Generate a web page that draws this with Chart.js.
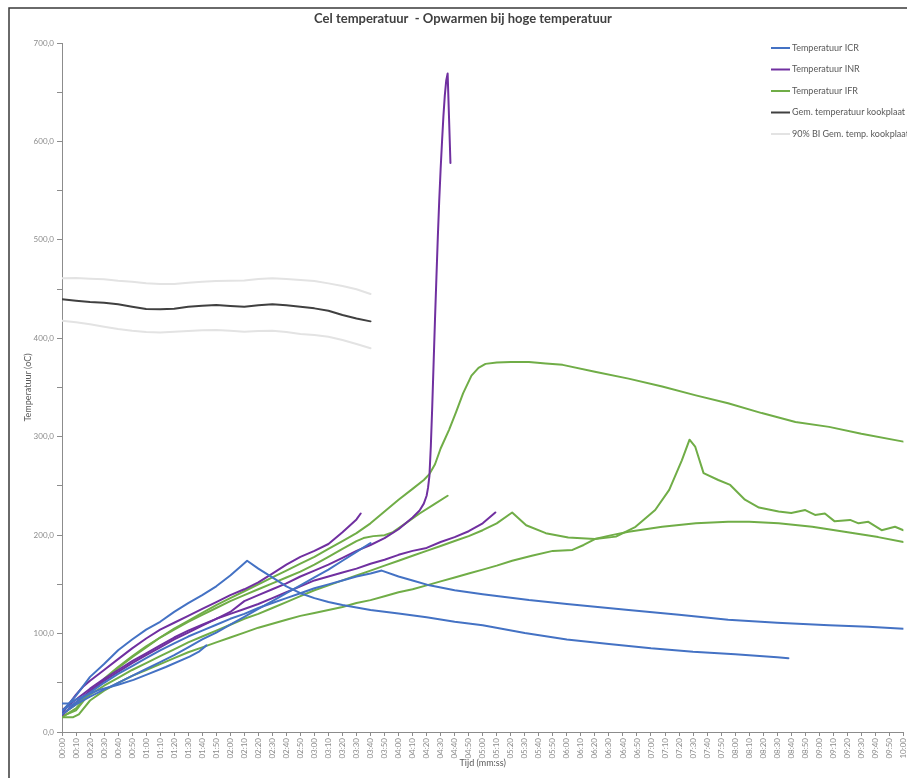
<!DOCTYPE html>
<html>
<head>
<meta charset="utf-8">
<title>Cel temperatuur - Opwarmen bij hoge temperatuur</title>
<script src="https://cdn.jsdelivr.net/npm/chart.js@4.4.1/dist/chart.umd.min.js"></script>
<style>
  html, body { margin: 0; padding: 0; overflow: hidden; background: #ffffff; }
  canvas { display: block; }
</style>
</head>
<body>
<canvas id="chart" width="915" height="778"></canvas>
<script>
// Measured cell temperatures: [time in seconds, temperature in °C]
const icr1 = [[0,21],[10,37],[20,56],[30,69],[40,83],[50,94],[60,104],[70,112],[80,122],[90,131],[100,139],[110,148],[120,159],[128,169],[132,174],[140,166],[150,157],[160,148],[170,141],[180,136],[190,132],[200,129],[210,126.5],[220,124],[240,120.5],[260,116.5],[280,112],[300,108.5],[330,100.5],[360,94],[390,89.5],[420,85],[450,81.5],[480,79],[510,76],[518,75]];
const icr2 = [[0,22],[10,30],[20,40],[30,50],[40,59],[50,67],[60,75],[70,83],[80,90],[90,97],[100,103],[110,109],[120,115],[130,120],[140,126],[150,131],[160,136],[170,141],[180,146],[190,150],[200,154],[210,158],[220,161],[228,164],[240,158],[250,154],[262,149],[280,144],[300,140],[333,134],[360,130],[404,124],[440,119],[475,114],[510,111],[547,108.5],[575,107],[600,105]];
const icr3 = [[0,29],[5,29],[10,33],[20,39],[27,43],[40,48],[51,53],[60,58],[74,66],[91,76.5],[98,82],[103,88]];
const icr4 = [[0,18],[10,28],[20,36],[30,43],[40,50],[50,57],[60,64],[70,71],[80,78],[90,86],[100,94],[110,101],[120,109],[130,117],[140,125],[150,133],[160,141],[170,149],[180,157],[190,165],[200,174],[210,183],[220,192]];

const inr1 = [[0,19],[10,38],[15,46],[20,52],[30,63],[40,74],[50,85],[60,95],[70,104],[80,111],[90,118],[100,125],[110,132],[120,139],[130,145],[140,152],[150,161],[160,170],[170,178],[180,184],[190,191],[200,203],[210,216],[213,222]];
const inr2 = [[0,17],[10,30],[20,42],[30,52],[40,61],[50,70],[60,78],[70,86],[80,94],[90,101],[100,108],[110,115],[120,122],[130,133],[140,139],[150,145],[160,151],[170,158],[180,164],[190,170],[200,177],[210,184],[220,190],[230,197],[240,206],[250,218],[255,225],[258,232],[260,240],[261,248],[262,260],[263,290],[264,330],[265,375],[266,420],[267,462],[268,503],[269,540],[270,572],[271,600],[272,626],[273,647],[274,662],[275,669],[277,578]];
const inr3 = [[0,22],[10,33],[20,44],[30,54],[40,63],[50,72],[60,80],[70,88],[80,96],[90,103],[100,109],[110,115],[120,120],[130,125],[140,130],[150,136],[160,142],[170,148],[180,154],[190,158],[200,162],[210,166],[220,171],[230,175],[240,180],[250,184],[260,187],[270,193],[280,198],[290,204],[300,212],[309,223]];

const ifr1 = [[0,15],[10,24],[20,40],[30,54],[40,66],[50,77],[60,87],[70,96],[80,104],[90,112],[100,119],[110,126],[120,133],[130,139],[140,145],[150,151],[160,157],[170,163],[180,170],[190,178],[200,186],[210,194],[215,197],[222,199],[230,200],[236,203],[245,212],[255,222],[265,231],[275,240]];
const ifr2 = [[0,16],[10,22],[20,40],[30,53],[40,65],[50,76],[60,86],[70,96],[80,105],[90,113],[100,121],[110,129],[120,136],[130,143],[140,150],[150,157],[160,164],[170,171],[180,178],[190,186],[200,194],[210,202],[220,212],[230,224],[240,236],[250,247],[258,256],[262,262],[266,272],[270,288],[276,307],[281,325],[286,344],[292,362],[297,370],[302,374],[310,375.5],[320,376],[333,376],[345,374.5],[357,373],[380,366],[404,359],[428,351],[452,342],[475,334],[499,324],[523,315],[547,310],[570,303],[600,295]];
const ifr3 = [[0,18],[10,28],[20,38],[30,47],[40,55],[50,63],[60,70],[70,77],[80,84],[90,91],[100,97],[110,103],[120,109],[130,115],[140,120],[150,126],[160,132],[170,138],[180,144],[190,149],[200,154],[210,159],[220,164],[230,169],[240,174],[250,179],[260,184],[270,189],[280,194],[290,199],[300,205],[310,212],[321,223],[331,210],[345,202],[361,197.5],[380,196],[395,198.5],[409,208.5],[423,225.5],[433,246],[442,276],[447.5,297],[451.5,290],[457.5,263],[468,256],[476.5,251],[487,236],[497,228],[511,224],[520,222.5],[530,225.5],[537,220.5],[544,222],[551,214],[562,215.5],[568,212],[575,213.5],[584.5,205],[594,208.5],[600,205]];
const ifr4 = [[0,15],[8,15],[12,18],[20,32],[30,42],[40,50],[50,57],[60,63],[70,69],[80,75],[90,81],[100,86],[110,91],[120,96],[130,101],[140,106],[150,110],[160,114],[170,118],[180,121],[190,124],[200,127],[210,131],[220,134],[230,138],[240,142],[250,145],[260,149],[270,153],[280,157],[290,161],[300,165],[310,169],[321,174],[335,179],[350,184],[364,185],[372,190],[380,196],[392,200],[404,203.5],[428,208.5],[452,212],[475,213.7],[490,213.7],[511,212],[535,208.5],[558,203.5],[582,198],[600,193]];

// Hot plate: mean temperature and its 90% confidence band
const plateMean = [[0,439.6],[10,438.2],[20,436.9],[30,436.2],[40,434.5],[50,432.1],[60,429.8],[70,429.4],[80,430.1],[90,432.1],[100,433.1],[110,433.8],[120,432.8],[130,432.1],[140,433.5],[150,434.5],[160,433.5],[170,432.1],[180,430.4],[190,428],[200,423.6],[210,420.2],[220,417.2]];
const plateUpper = [[0,461],[10,461.2],[20,460.5],[30,459.9],[40,458.5],[50,457.5],[60,455.8],[70,455.1],[80,455.1],[90,456.5],[100,457.5],[110,458.2],[120,458.5],[130,458.8],[140,460.2],[150,461],[160,460.2],[170,459.2],[180,458.2],[190,455.8],[200,453.1],[210,449.8],[220,445]];
const plateLower = [[0,417.9],[10,416.2],[20,414.2],[30,411.8],[40,409.4],[50,407.7],[60,406.4],[70,406],[80,406.7],[90,407.4],[100,408.1],[110,408.4],[120,407.7],[130,406.7],[140,407.4],[150,407.7],[160,406.4],[170,404.4],[180,403.3],[190,401.6],[200,398.3],[210,394.2],[220,389.8]];

const seriesNames = ['Temperatuur ICR', 'Temperatuur INR', 'Temperatuur IFR', 'Gem. temperatuur kookplaat', '90% BI Gem. temp. kookplaat'];
const seriesColors = ['#4472C4', '#7030A0', '#70AD47', '#404040', '#E3E3E3'];

const chartTitle = 'Cel temperatuur  - Opwarmen bij hoge temperatuur';
const yTitle = 'Temperatuur (oC)';
const xTitle = 'Tijd (mm:ss)';

const FONT = 'Lato, "Open Sans", sans-serif';

function line(points, group) {
  return {
    label: seriesNames[group],
    data: points.map(([x, y]) => ({ x, y })),
    borderColor: seriesColors[group],
    borderWidth: 2,
    pointRadius: 0,
    pointHoverRadius: 0,
    tension: 0,
    fill: false,
    borderJoinStyle: 'round',
    borderCapStyle: 'round'
  };
}

const datasets = [
  line(icr1, 0), line(icr2, 0), line(icr3, 0), line(icr4, 0),
  line(inr1, 1), line(inr2, 1), line(inr3, 1),
  line(ifr1, 2), line(ifr2, 2), line(ifr3, 2), line(ifr4, 2),
  line(plateUpper, 4), line(plateLower, 4), line(plateMean, 3)
];

function mmss(sec) {
  const m = Math.floor(sec / 60);
  const s = Math.round(sec % 60);
  return String(m).padStart(2, '0') + ':' + String(s).padStart(2, '0');
}

// Page furniture: white background, frame, title and legend
const decorations = {
  id: 'decorations',
  beforeDraw(chart) {
    const ctx = chart.ctx;
    ctx.save();
    ctx.fillStyle = '#ffffff';
    ctx.fillRect(0, 0, chart.width, chart.height);
    ctx.restore();
  },
  afterDraw(chart) {
    const ctx = chart.ctx;
    ctx.save();
    // frame
    ctx.strokeStyle = '#3a3a3a';
    ctx.lineWidth = 1.5;
    ctx.beginPath();
    ctx.moveTo(9, chart.height);
    ctx.lineTo(9, 8);
    ctx.lineTo(chart.width, 8);
    ctx.stroke();
    // title
    ctx.fillStyle = '#404040';
    ctx.font = 'bold 13px ' + FONT;
    ctx.textAlign = 'center';
    ctx.textBaseline = 'middle';
    ctx.fillText(chartTitle, 463, 19);
    // legend
    ctx.font = '9px ' + FONT;
    ctx.textAlign = 'left';
    seriesNames.forEach((name, i) => {
      const y = 48 + i * 21.5;
      ctx.strokeStyle = seriesColors[i];
      ctx.lineWidth = 2;
      ctx.beginPath();
      ctx.moveTo(771, y);
      ctx.lineTo(790, y);
      ctx.stroke();
      ctx.fillStyle = '#595959';
      ctx.fillText(name, 792, y);
    });
    ctx.restore();
  }
};

new Chart(document.getElementById('chart'), {
  type: 'line',
  data: { datasets },
  options: {
    responsive: false,
    animation: false,
    devicePixelRatio: 1,
    layout: { padding: { top: 43, right: 10, left: 0, bottom: 0 } },
    plugins: {
      legend: { display: false },
      title: { display: false },
      tooltip: { enabled: false }
    },
    scales: {
      x: {
        type: 'linear',
        min: 0,
        max: 600,
        afterFit(scale) { scale.height = 46; },
        border: { display: true, color: '#8c8c8c', width: 1 },
        grid: { display: true, drawOnChartArea: false, drawTicks: true, tickLength: 4, color: '#8c8c8c' },
        ticks: {
          stepSize: 10,
          autoSkip: false,
          minRotation: 90,
          maxRotation: 90,
          padding: 2,
          color: '#8c8c8c',
          font: { family: FONT, size: 8 },
          callback: (v) => mmss(v)
        },
        title: {
          display: true,
          text: xTitle,
          color: '#595959',
          font: { family: FONT, size: 9 },
          padding: { top: 0, bottom: 9.6 }
        }
      },
      y: {
        type: 'linear',
        min: 0,
        max: 700,
        afterFit(scale) { scale.width = 62; },
        border: { display: true, color: '#8c8c8c', width: 1 },
        grid: { display: true, drawOnChartArea: false, drawTicks: true, tickLength: 5, color: '#8c8c8c' },
        ticks: {
          stepSize: 50,
          padding: 3,
          color: '#8c8c8c',
          font: { family: FONT, size: 8 },
          callback: (v) => (v % 100 === 0 ? v.toFixed(1).replace('.', ',') : '')
        },
        title: {
          display: true,
          text: yTitle,
          color: '#595959',
          font: { family: FONT, size: 9 },
          padding: { top: 22.6, bottom: 0 }
        }
      }
    }
  },
  plugins: [decorations]
});
</script>
</body>
</html>
